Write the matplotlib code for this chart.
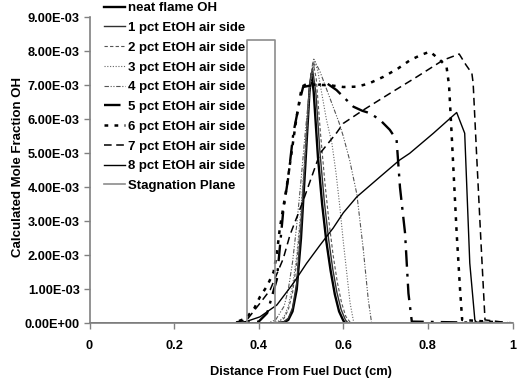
import matplotlib
matplotlib.use("Agg")
import matplotlib.pyplot as plt
from matplotlib.ticker import FixedLocator, FuncFormatter

plt.rcParams['font.family'] = ['Liberation Sans', 'DejaVu Sans']
plt.rcParams['font.weight'] = 'bold'

# ---- data (x in cm, y in units of 1e-3 mole fraction) ----
neat_x = [0, 0.44, 0.46, 0.47, 0.48, 0.49, 0.50, 0.51, 0.52, 0.525, 0.53, 0.54, 0.55, 0.56, 0.57, 0.58, 0.59, 0.60, 0.605, 1.0]
neat_y = [0, 0, 0.03, 0.1, 0.35, 1.0, 2.5, 4.6, 6.8, 7.35, 6.8, 4.9, 3.5, 2.4, 1.55, 0.85, 0.35, 0.08, 0, 0]

p1_x = [0, 0.44, 0.46, 0.47, 0.48, 0.49, 0.50, 0.51, 0.52, 0.527, 0.535, 0.545, 0.555, 0.565, 0.575, 0.585, 0.595, 0.605, 0.612, 1.0]
p1_y = [0, 0, 0.05, 0.15, 0.45, 1.2, 2.8, 4.9, 7.0, 7.5, 6.8, 5.0, 3.6, 2.5, 1.6, 0.9, 0.4, 0.1, 0, 0]

p2_x = [0, 0.43, 0.45, 0.46, 0.47, 0.48, 0.49, 0.50, 0.51, 0.52, 0.528, 0.536, 0.546, 0.556, 0.566, 0.576, 0.586, 0.596, 0.606, 0.618, 1.0]
p2_y = [0, 0, 0.05, 0.15, 0.4, 0.9, 1.8, 3.2, 5.0, 6.9, 7.7, 7.2, 5.6, 4.2, 3.0, 2.0, 1.2, 0.6, 0.2, 0, 0]

p3_x = [0, 0.43, 0.45, 0.46, 0.47, 0.48, 0.49, 0.50, 0.51, 0.52, 0.53, 0.54, 0.55, 0.56, 0.573, 0.583, 0.592, 0.60, 0.608, 0.616, 0.625, 1.0]
p3_y = [0, 0, 0.08, 0.2, 0.5, 1.1, 2.0, 3.4, 5.1, 6.8, 7.8, 7.4, 6.7, 6.0, 5.3, 4.4, 3.4, 2.4, 1.5, 0.6, 0, 0]

p4_x = [0, 0.42, 0.44, 0.46, 0.47, 0.48, 0.49, 0.50, 0.51, 0.52, 0.533, 0.545, 0.56, 0.575, 0.59, 0.60, 0.615, 0.632, 0.647, 0.659, 0.667, 1.0]
p4_y = [0, 0, 0.1, 0.5, 1.0, 1.8, 2.9, 4.2, 5.6, 6.9, 7.7, 7.4, 6.9, 6.4, 5.9, 5.5, 4.8, 3.8, 2.2, 0.7, 0, 0]

p5_x = [0, 0.36, 0.40, 0.42, 0.443, 0.458, 0.47, 0.482, 0.49, 0.498, 0.505, 0.525, 0.545, 0.561, 0.584, 0.605, 0.624, 0.645, 0.663, 0.687, 0.71, 0.726, 0.734, 0.746, 0.754, 0.762, 1.0]
p5_y = [0, 0, 0.05, 0.3, 1.3, 3.3, 4.3, 5.6, 6.1, 6.6, 6.95, 7.0, 7.02, 7.06, 6.86, 6.6, 6.37, 6.25, 6.18, 5.98, 5.69, 5.39, 4.0, 2.65, 0.88, 0.05, 0]

p6_x = [0, 0.34, 0.37, 0.39, 0.403, 0.42, 0.435, 0.443, 0.45, 0.458, 0.466, 0.474, 0.482, 0.49, 0.502, 0.515, 0.53, 0.569, 0.60, 0.632, 0.66, 0.695, 0.73, 0.758, 0.785, 0.805, 0.829, 0.844, 0.85, 0.856, 0.868, 0.876, 0.881, 1.0]
p6_y = [0, 0, 0.15, 0.45, 0.78, 1.1, 1.5, 2.06, 2.8, 3.4, 4.0, 4.7, 5.4, 6.1, 6.96, 7.05, 7.02, 7.0, 6.95, 6.96, 7.05, 7.25, 7.5, 7.74, 7.9, 7.99, 7.74, 7.55, 7.0, 5.59, 2.65, 1.0, 0.1, 0]

p7_x = [0, 0.33, 0.372, 0.403, 0.427, 0.458, 0.474, 0.505, 0.545, 0.584, 0.6, 0.647, 0.71, 0.774, 0.836, 0.874, 0.89, 0.904, 0.907, 0.915, 0.925, 0.935, 1.0]
p7_y = [0, 0, 0.1, 0.59, 0.98, 1.9, 2.6, 3.6, 5.0, 5.6, 5.88, 6.27, 6.76, 7.25, 7.74, 7.92, 7.6, 7.35, 7.06, 5.0, 2.5, 0.1, 0]

p8_x = [0, 0.33, 0.37, 0.403, 0.443, 0.482, 0.513, 0.545, 0.576, 0.60, 0.632, 0.687, 0.733, 0.757, 0.813, 0.868, 0.887, 0.899, 0.911, 0.916, 1.0]
p8_y = [0, 0, 0.05, 0.19, 0.54, 1.18, 1.76, 2.3, 2.8, 3.25, 3.72, 4.31, 4.8, 5.0, 5.59, 6.2, 5.59, 1.77, 0.1, 0, 0]

stag_x = [0, 0.372, 0.372, 0.438, 0.438, 1.0]
stag_y = [0, 0, 8.33, 8.33, 0, 0]

labels = ["neat flame OH", "1 pct EtOH air side", "2 pct EtOH air side",
          "3 pct EtOH air side", "4 pct EtOH air side", "5 pct EtOH air side",
          "6 pct EtOH air side", "7 pct EtOH air side", "8 pct EtOH air side",
          "Stagnation Plane"]

x_ticks = [0, 0.2, 0.4, 0.6, 0.8, 1.0]
x_tick_labels = ["0", "0.2", "0.4", "0.6", "0.8", "1"]
y_ticks = [0, 1, 2, 3, 4, 5, 6, 7, 8, 9]

fig = plt.figure(figsize=(5.26, 3.80), dpi=100)
ax = fig.add_axes([89.5/526, 1-323.3/380, 423/526, 306/380])

sc = 1e-3
def s(v):
    return [a*sc for a in v]

styles = [
    dict(color='black', lw=1.7, ls='-'),
    dict(color='#303030', lw=1.0, ls='-'),
    dict(color='#555555', lw=0.8, ls=(0, (3, 2))),
    dict(color='#666666', lw=0.8, ls=(0, (1, 1.5))),
    dict(color='#555555', lw=0.8, ls=(0, (4, 1.5, 1, 1.5, 1, 1.5))),
    dict(color='black', lw=1.7, ls=(0, (7, 3, 1.2, 3))),
    dict(color='black', lw=1.8, ls=(0, (1.5, 2.5))),
    dict(color='black', lw=1.1, ls=(0, (5, 3))),
    dict(color='black', lw=1.0, ls='-'),
    dict(color='#8c8c8c', lw=1.2, ls='-'),
]
series = [(neat_x, neat_y), (p1_x, p1_y), (p2_x, p2_y), (p3_x, p3_y), (p4_x, p4_y),
          (p5_x, p5_y), (p6_x, p6_y), (p7_x, p7_y), (p8_x, p8_y), (stag_x, stag_y)]

handles = []
for (xx, yy), st, lab in zip(series, styles, labels):
    h, = ax.plot(xx, s(yy), label=lab, **st)
    handles.append(h)

ax.set_xlim(0, 1)
ax.set_ylim(0, 9e-3)
ax.xaxis.set_major_locator(FixedLocator(x_ticks))
ax.set_xticklabels(x_tick_labels)
ax.yaxis.set_major_locator(FixedLocator([v*sc for v in y_ticks]))
ax.yaxis.set_major_formatter(FuncFormatter(lambda v, p: "{:.2E}".format(v)))

for sp in ['top', 'right']:
    ax.spines[sp].set_visible(False)
for sp in ['left', 'bottom']:
    ax.spines[sp].set_color('#808080')
    ax.spines[sp].set_linewidth(1.2)
ax.tick_params(axis='both', direction='out', length=4, width=1, color='#808080',
               labelsize=9.2, pad=3)
for t in ax.get_xticklabels() + ax.get_yticklabels():
    t.set_fontweight('bold')
ax.tick_params(axis='x', pad=8)

ax.set_xlabel("Distance From Fuel Duct (cm)", fontsize=9.3, fontweight='bold', labelpad=10)
ax.set_ylabel("Calculated Mole Fraction OH", fontsize=9.5, fontweight='bold', labelpad=2)
ax.yaxis.set_label_coords(-0.155, 0.51)

fig.legend(handles=handles, labels=labels, loc='upper left',
           bbox_to_anchor=(104/526, 1-2/380), frameon=False,
           prop=dict(size=9.5, weight='bold'), handlelength=1.6, handletextpad=0.25,
           labelspacing=0.57, borderpad=0, borderaxespad=0)

fig.savefig("out.png", dpi=100)
